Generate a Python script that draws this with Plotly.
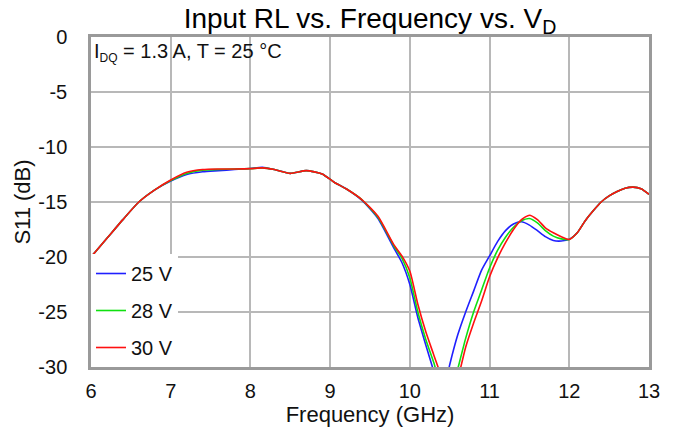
import plotly.graph_objects as go

# ---- data ----
freq_ghz = [6.0, 6.2, 6.4, 6.6, 6.8, 7.0, 7.2, 7.4, 7.6, 7.8,
            8.0, 8.15, 8.3, 8.5, 8.7, 8.9, 9.05, 9.2, 9.4, 9.6,
            9.8, 9.9, 10.0, 10.1, 10.2, 10.3, 10.4, 10.5, 10.6, 10.7,
            10.8, 10.9, 11.0, 11.1, 11.2, 11.3, 11.4, 11.5, 11.6, 11.7,
            11.8, 11.9, 12.0, 12.1, 12.2, 12.3, 12.4, 12.5, 12.6, 12.7,
            12.8, 12.9, 13.0]

s11_25v = [-20.0, -18.3, -16.6, -15.0, -13.9, -13.1, -12.5, -12.25, -12.15, -12.05,
           -11.95, -11.85, -12.05, -12.4, -12.15, -12.45, -13.2, -13.8, -14.85, -16.5,
           -19.2, -20.5, -22.5, -25.5, -28.0, -30.4, -33.0, -29.8, -27.1, -25.0,
           -23.1, -21.2, -19.9, -18.6, -17.6, -17.0, -16.8, -17.1, -17.6, -18.15,
           -18.5, -18.55, -18.4, -17.8, -16.7, -15.8, -15.0, -14.45, -14.05, -13.75,
           -13.65, -13.8, -14.3]

s11_28v = [-20.0, -18.3, -16.6, -15.0, -13.9, -13.05, -12.4, -12.1, -12.05, -12.0,
           -11.97, -11.9, -12.05, -12.4, -12.15, -12.45, -13.2, -13.8, -14.8, -16.4,
           -19.0, -20.1, -21.9, -25.0, -27.5, -29.6, -32.0, -33.0, -30.2, -27.4,
           -25.0, -23.0, -21.0, -19.4, -18.2, -17.3, -16.7, -16.5, -16.9, -17.6,
           -18.1, -18.35, -18.4, -17.8, -16.7, -15.8, -15.0, -14.45, -14.05, -13.75,
           -13.65, -13.8, -14.3]

s11_30v = [-20.0, -18.3, -16.6, -15.0, -13.9, -13.0, -12.3, -12.05, -12.0, -12.0,
           -11.97, -11.9, -12.05, -12.4, -12.15, -12.45, -13.2, -13.8, -14.8, -16.3,
           -18.9, -19.9, -21.3, -24.3, -26.8, -28.9, -31.0, -34.0, -31.2, -28.2,
           -26.0, -24.0, -21.8, -20.1, -18.7, -17.5, -16.6, -16.2, -16.6, -17.35,
           -17.8, -18.15, -18.4, -17.8, -16.7, -15.8, -15.0, -14.45, -14.05, -13.75,
           -13.65, -13.8, -14.3]

series_names = ["25 V", "28 V", "30 V"]
series_colors = ["#1f1fff", "#10e010", "#ff1010"]
x_ticks = [6, 7, 8, 9, 10, 11, 12, 13]
y_ticks = [0, -5, -10, -15, -20, -25, -30]

FONT = "Liberation Sans, Arial, sans-serif"

fig = go.Figure()
for name, vals, col in zip(series_names, [s11_25v, s11_28v, s11_30v], series_colors):
    fig.add_trace(go.Scatter(
        x=freq_ghz, y=vals, mode="lines", name=name, legendgroup=name,
        line=dict(color=col, width=1.6, shape="spline", smoothing=0.6),
    ))

fig.update_layout(
    width=673, height=433,
    margin=dict(l=91, r=24, t=37, b=66),
    paper_bgcolor="white", plot_bgcolor="white",
    font=dict(family=FONT, size=20, color="#111111"),
    title=dict(text="Input RL vs. Frequency vs. V<sub>D</sub>",
               x=0.5, xref="paper", xanchor="center",
               y=0.958, yref="container", yanchor="middle",
               font=dict(family=FONT, size=28, color="#000000")),
    showlegend=True,
    legend=dict(x=0.0, y=0.0, xanchor="left", yanchor="bottom",
                xref="paper", yref="paper",
                bgcolor="white", borderwidth=0,
                font=dict(family=FONT, size=20, color="#111111"),
                traceorder="grouped", tracegroupgap=8,
                itemwidth=30),
)

fig.update_xaxes(
    range=[6, 13], tickvals=x_ticks, ticktext=[str(v) for v in x_ticks],
    showgrid=True, gridcolor="#b8b8b8", gridwidth=2,
    showline=True, linecolor="#9a9a9a", linewidth=2.5, mirror=True,
    ticks="", ticklabelstandoff=4, zeroline=False, automargin=False,
    tickfont=dict(family=FONT, size=20, color="#111111"),
    title=dict(text="Frequency (GHz)", standoff=2,
               font=dict(family=FONT, size=22, color="#111111")),
)
fig.update_yaxes(
    range=[-30, 0], tickvals=y_ticks, ticktext=[str(v) for v in y_ticks],
    showgrid=True, gridcolor="#b8b8b8", gridwidth=2,
    showline=True, linecolor="#9a9a9a", linewidth=2.5, mirror=True,
    ticks="", ticklabelstandoff=17, zeroline=False, automargin=False,
    tickfont=dict(family=FONT, size=20, color="#111111"),
    title=dict(text="S11 (dB)", standoff=2,
               font=dict(family=FONT, size=22, color="#111111")),
)

fig.add_annotation(
    text="I<sub><span style='font-size:12px'>DQ</span></sub> = 1.3 A, T = 25 °C",
    xref="paper", yref="paper", x=0, y=1, xanchor="left", yanchor="top",
    xshift=1, yshift=-1, showarrow=False,
    font=dict(family=FONT, size=20, color="#111111"),
)

fig.write_html("out.html")
